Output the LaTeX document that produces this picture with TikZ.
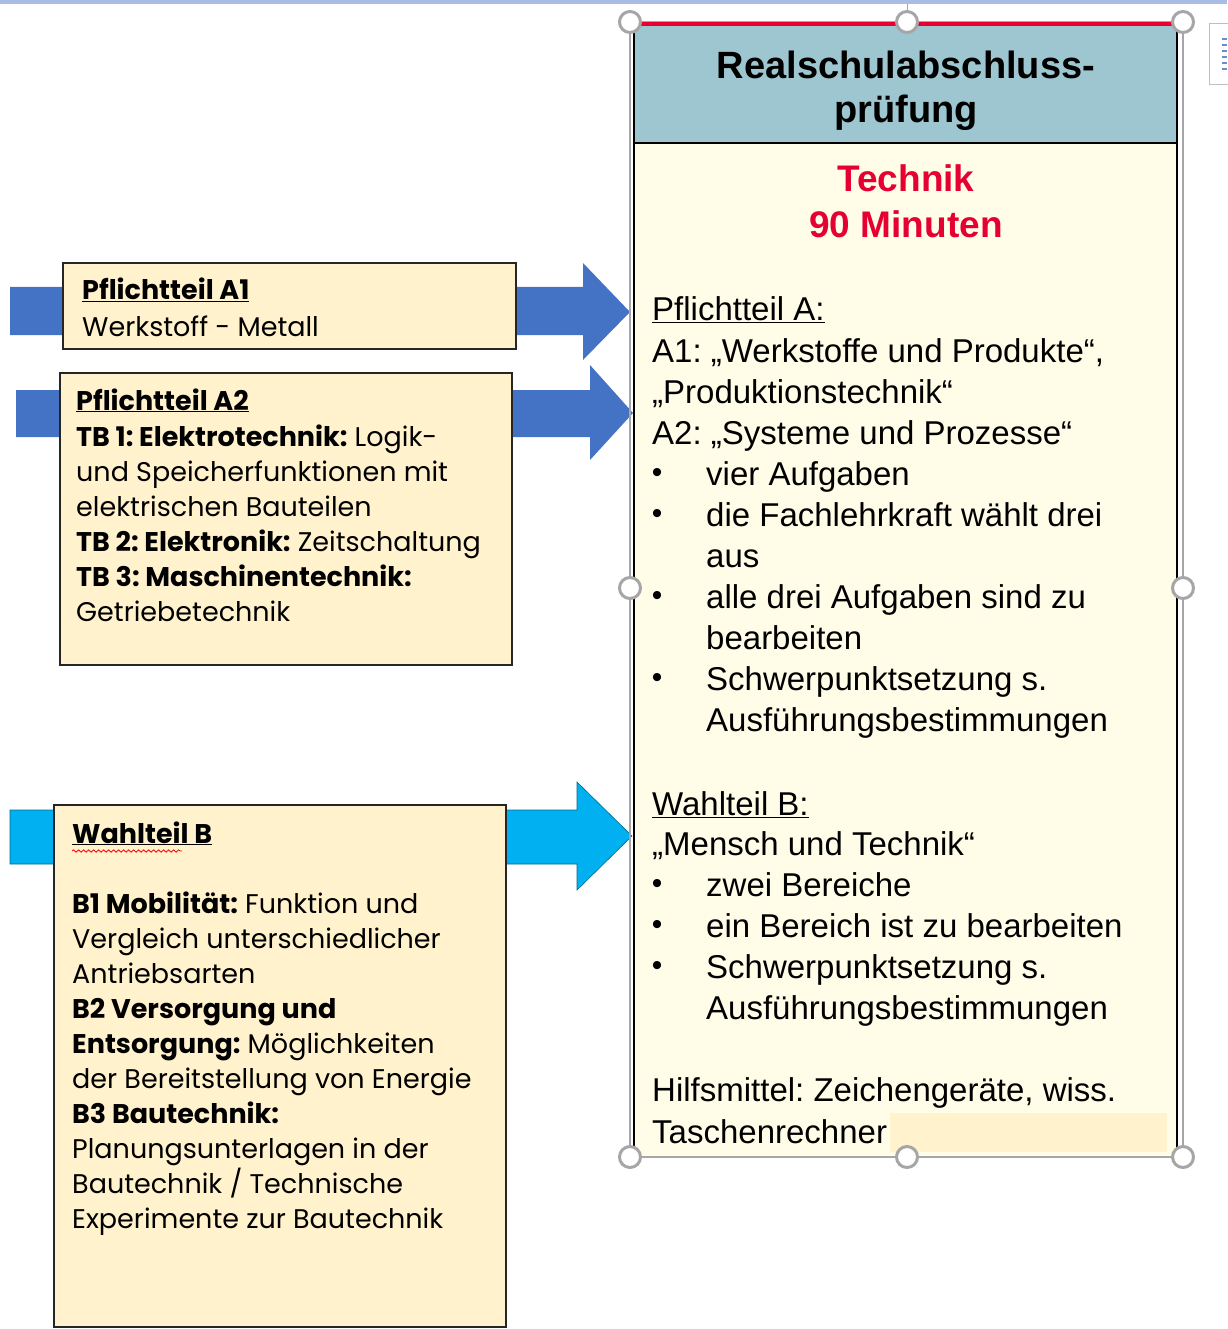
\documentclass[tikz,border=0pt]{standalone}
\usepackage{fontspec}
\setmainfont{Liberation Sans}
\newfontfamily\gothic{Poppins}
\usetikzlibrary{decorations.pathmorphing}
\frenchspacing
\definecolor{arrowblue}{HTML}{4472C4}
\definecolor{arrowcyan}{HTML}{00B0F0}
\definecolor{boxcream}{HTML}{FFF2CC}
\definecolor{headteal}{HTML}{9EC6D0}
\definecolor{bodycream}{HTML}{FFFDE8}
\definecolor{titlered}{RGB}{230,0,50}
\definecolor{handlegray}{HTML}{A6A6A6}
\definecolor{topbar}{HTML}{A7BDE3}
\tikzset{
  ltxt/.style={anchor=base west, inner sep=0pt, font=\gothic\fontsize{27}{32}\selectfont},
  rtxt/.style={anchor=base west, inner sep=0pt, font=\fontsize{33}{40}\selectfont},
  bulletmark/.style={anchor=base, inner sep=0pt, font=\fontsize{30}{34}\selectfont},
  headtxt/.style={anchor=base, inner sep=0pt, font=\bfseries\fontsize{38}{46}\selectfont},
  handle/.style={circle, draw=handlegray, fill=white, line width=3pt, minimum size=21pt, inner sep=0pt},
  partbox/.style={draw=black!85, line width=1.2pt, fill=boxcream},
}
\begin{document}
\begin{tikzpicture}[x=1pt,y=-1pt]
\useasboundingbox (0,0) rectangle (1227,1329);
\fill[topbar] (0,0) rectangle (1227,4);
\draw[handlegray, line width=0.8pt] (907,4) -- (907,12);
\draw[gray!50, line width=1pt, fill=white] (1209,24) rectangle (1240,85);
\foreach \yy in {39,45,...,71} {\draw[arrowblue!80, line width=1.4pt] (1222,\yy) -- (1227,\yy);}

\fill[arrowblue] (10,287) -- (583,287) -- (583,263) -- (630,312) -- (583,360) -- (583,335) -- (10,335) -- cycle;
\fill[arrowblue] (16,390) -- (590,390) -- (590,365) -- (633,413) -- (590,460) -- (590,437) -- (16,437) -- cycle;
\filldraw[fill=arrowcyan, draw=arrowcyan!60!black, line width=0.6pt] (10,810) -- (577,810) -- (577,782) -- (632,836) -- (577,890) -- (577,864) -- (10,864) -- cycle;

\draw[partbox] (63,263) rectangle (516,349);
\draw[partbox] (60,373) rectangle (512,665);
\draw[partbox] (54,805) rectangle (506,1327);

\node[ltxt] (a1head) at (82,300) {\underline{\bfseries Pflichtteil A1}};
\node[ltxt] (a1text) at (82,336) {Werkstoff - Metall};

\node[ltxt] (a2head) at (76,410) {\underline{\bfseries Pflichtteil A2}};
\foreach \ln [count=\i from 0] in {{\textbf{TB 1: Elektrotechnik:} Logik-}, {und Speicherfunktionen mit}, {elektrischen Bauteilen}, {\textbf{TB 2: Elektronik:} Zeitschaltung}, {\textbf{TB 3: Maschinentechnik:}}, {Getriebetechnik}}
  {\node[ltxt] (a2l\i) at (76,446+35*\i) {\ln};}

\node[ltxt] (bhead) at (72,843) {\underline{\bfseries Wahlteil B}};
\draw[red, line width=0.8pt, decorate, decoration={snake, amplitude=1.2pt, segment length=5pt}] (72,851) -- (182,851);
\foreach \ln [count=\i from 0] in {{\textbf{B1 Mobilität:} Funktion und}, {Vergleich unterschiedlicher}, {Antriebsarten}, {\textbf{B2 Versorgung und}}, {\textbf{Entsorgung:} Möglichkeiten}, {der Bereitstellung von Energie}, {\textbf{B3 Bautechnik:}}, {Planungsunterlagen in der}, {Bautechnik / Technische}, {Experimente zur Bautechnik}}
  {\node[ltxt] (bl\i) at (72,913+35.1*\i) {\ln};}

\fill[bodycream] (633,143) rectangle (1178,1155);
\fill[headteal] (633,26) rectangle (1178,143);
\draw[line width=1.5pt] (633,143) -- (1178,143);
\draw[line width=1.5pt] (634,26) -- (634,1155);
\draw[line width=1.5pt] (1177,26) -- (1177,1155);

\node[headtxt] (title1) at (906,79) {Realschulabschluss-};
\node[headtxt] (title2) at (906,123) {prüfung};
\node[headtxt, titlered, font=\bfseries\fontsize{37}{44}\selectfont] (subj) at (906,192) {Technik};
\node[headtxt, titlered, font=\bfseries\fontsize{37}{44}\selectfont] (time) at (906,238) {90 Minuten};

\node[rtxt] (pa) at (652,320) {\underline{Pflichtteil A:}};
\foreach \ln [count=\i from 0] in {{A1: „Werkstoffe und Produkte“,}, {„Produktionstechnik“}, {A2: „Systeme und Prozesse“}}
  {\node[rtxt] (pa\i) at (652,362+41*\i) {\ln};}
\foreach \ln [count=\i from 0] in {{vier Aufgaben}, {die Fachlehrkraft wählt drei}, {aus}, {alle drei Aufgaben sind zu}, {bearbeiten}, {Schwerpunktsetzung s.}, {Ausführungsbestimmungen}}
  {\node[rtxt] (pt\i) at (706,485+41.1*\i) {\ln};}
\foreach \yy [count=\i] in {485,526,608,690}
  {\node[bulletmark] (pd\i) at (657,\yy-3) {•};}

\node[rtxt] (wb) at (652,815) {\underline{Wahlteil B:}};
\node[rtxt] (wb0) at (652,855) {„Mensch und Technik“};
\foreach \ln [count=\i from 0] in {{zwei Bereiche}, {ein Bereich ist zu bearbeiten}, {Schwerpunktsetzung s.}, {Ausführungsbestimmungen}}
  {\node[rtxt] (wt\i) at (706,896+41*\i) {\ln};}
\foreach \yy [count=\i] in {896,937,978}
  {\node[bulletmark] (wd\i) at (657,\yy-3) {•};}

\node[rtxt] (hm1) at (652,1101) {Hilfsmittel: Zeichengeräte, wiss.};
\node[rtxt] (hm2) at (652,1143) {Taschenrechner};
\fill[boxcream] (890,1113) rectangle (1167,1152);

\draw[handlegray, line width=1.2pt] (630,22) rectangle (1183,1157);
\draw[titlered, line width=4pt] (630,24) -- (1183,24);
\foreach \hx/\hy [count=\i] in {630/22, 907/22, 1183/22, 630/588, 1183/588, 630/1157, 907/1157, 1183/1157}
  {\node[handle] (h\i) at (\hx,\hy) {};}
\end{tikzpicture}
\end{document}
